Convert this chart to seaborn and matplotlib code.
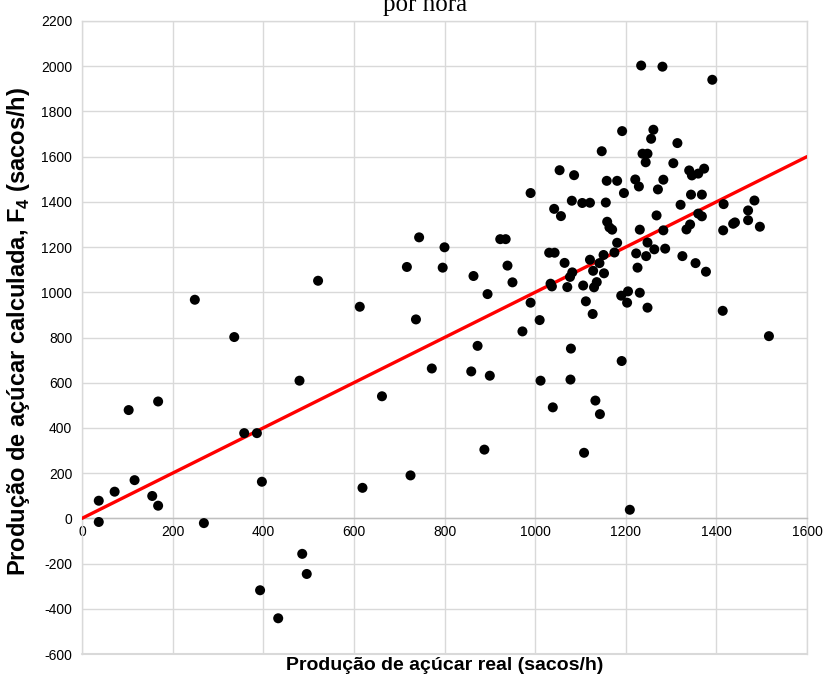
import matplotlib
matplotlib.use("Agg")
import matplotlib.pyplot as plt
import seaborn as sns
import pandas as pd

# Produção real vs. calculada (sacos/h)
producao_real = [
    37, 37, 72, 103, 116, 155, 168, 168, 249, 269, 336, 358, 386, 397, 393, 433,
    480, 486, 496, 521,
    613, 619, 662, 717, 725, 737, 744, 772, 796, 800,
    859, 864, 873, 888, 895, 900, 923, 935, 939, 950, 972, 990, 990, 1010, 1012,
    1031, 1043, 1034, 1037, 1039, 1042, 1054, 1057, 1065, 1071, 1077, 1079, 1078, 1082, 1081, 1086,
    1104, 1106, 1108, 1112, 1121, 1121, 1128, 1127, 1130, 1136, 1133, 1142, 1143, 1147, 1152, 1151,
    1156, 1158, 1159, 1164, 1170, 1175, 1181, 1181,
    1190, 1191, 1192, 1196, 1203, 1205, 1209, 1221, 1223, 1226, 1229, 1231, 1231, 1234, 1237, 1244,
    1248, 1245, 1248, 1248, 1256, 1261, 1263, 1268, 1271, 1281, 1283, 1283, 1287, 1305, 1314, 1321,
    1325, 1334, 1340, 1342, 1346, 1344, 1360, 1373, 1354, 1360, 1368, 1368, 1377, 1391, 1415, 1414,
    1416, 1437, 1441, 1470, 1470, 1484, 1496, 1516,
]
producao_calculada = [
    78, -16, 118, 479, 169, 99, 517, 56, 967, -21, 802, 377, 377, 162, -318, -442,
    609, -157, -246, 1051,
    936, 135, 540, 1112, 190, 880, 1243, 663, 1109, 1199,
    650, 1072, 763, 304, 992, 631, 1235, 1235, 1118, 1044, 827, 954, 1439, 877, 609,
    1175, 1175, 1038, 1026, 491, 1369, 1540, 1337, 1130, 1023, 1068, 751, 614, 1088, 1405, 1518,
    1395, 1030, 290, 960, 1396, 1144, 1095, 904, 1022, 1045, 521, 1129, 461, 1624, 1084, 1165,
    1397, 1493, 1312, 1287, 1277, 1176, 1493, 1219,
    985, 696, 1713, 1439, 954, 1004, 38, 1499, 1172, 1109, 1468, 1277, 998, 2003, 1613, 1575,
    1613, 1160, 932, 1220, 1679, 1719, 1190, 1340, 1455, 1998, 1498, 1274, 1193, 1571, 1660, 1387,
    1160, 1278, 1539, 1300, 1517, 1432, 1525, 1547, 1129, 1348, 1336, 1432, 1091, 1940, 1274, 918,
    1390, 1303, 1309, 1319, 1362, 1406, 1290, 806,
]

# Linha de igualdade (real = calculada)
linha_igualdade = [0, 1600]

x_ticks = list(range(0, 1601, 200))
y_ticks = list(range(-600, 2201, 200))

df = pd.DataFrame({"real": producao_real, "calculada": producao_calculada})
df_linha = pd.DataFrame({"x": linha_igualdade, "y": linha_igualdade})

sns.set_style("white")
plt.rcParams["font.family"] = ["Liberation Sans", "DejaVu Sans"]
plt.rcParams["mathtext.fontset"] = "custom"
plt.rcParams["mathtext.bf"] = "Liberation Sans:bold"
plt.rcParams["mathtext.rm"] = "Liberation Sans:bold"
plt.rcParams["text.color"] = "black"
plt.rcParams["axes.labelcolor"] = "black"

grid_color = "#D9D9D9"

fig = plt.figure(figsize=(8.24, 6.77), dpi=100)
ax = fig.add_axes([82 / 824, 1 - 654 / 677, (807 - 82) / 824, (654 - 21) / 677])

sns.scatterplot(data=df, x="real", y="calculada", ax=ax, color="black",
                s=52, edgecolor="none", zorder=4)
sns.lineplot(data=df_linha, x="x", y="y", ax=ax, color="#FF0000",
             linewidth=2.4, zorder=3)

ax.set_xlim(0, 1600)
ax.set_ylim(-600, 2200)
ax.set_xticks(x_ticks)
ax.set_yticks(y_ticks)
ax.set_xticklabels([str(v) for v in x_ticks])
ax.set_yticklabels([str(v) for v in y_ticks])

ax.grid(True, color=grid_color, linewidth=1.0, zorder=0)
ax.set_axisbelow(True)

for side in ["top", "right", "left", "bottom"]:
    ax.spines[side].set_color(grid_color)
    ax.spines[side].set_linewidth(1.0)

# O eixo horizontal cruza em y = 0
ax.spines["bottom"].set_position(("data", 0))
ax.spines["bottom"].set_color("#BFBFBF")
ax.axhline(-600, color=grid_color, linewidth=1.5, clip_on=False, zorder=1)

ax.tick_params(axis="both", length=0, labelsize=10, colors="black")
ax.tick_params(axis="x", pad=5)
ax.tick_params(axis="y", pad=7)

ax.set_xlabel("")
ax.set_ylabel("")

fig.text(19 / 824, 1 - 332 / 677,
         r"Produção de açúcar calculada, F$_{4}$ (sacos/h)",
         rotation=90, ha="center", va="center",
         fontsize=17, fontweight="bold", color="black")

fig.text(445 / 824, 1 - 665 / 677, "Produção de açúcar real (sacos/h)",
         ha="center", va="center", fontsize=14, fontweight="bold", color="black")

fig.text(425 / 824, 1 - 11 / 677, "por hora", ha="center", va="baseline",
         fontsize=18, color="black", family=["Liberation Serif", "DejaVu Serif"])

fig.savefig("out.png", dpi=100)
